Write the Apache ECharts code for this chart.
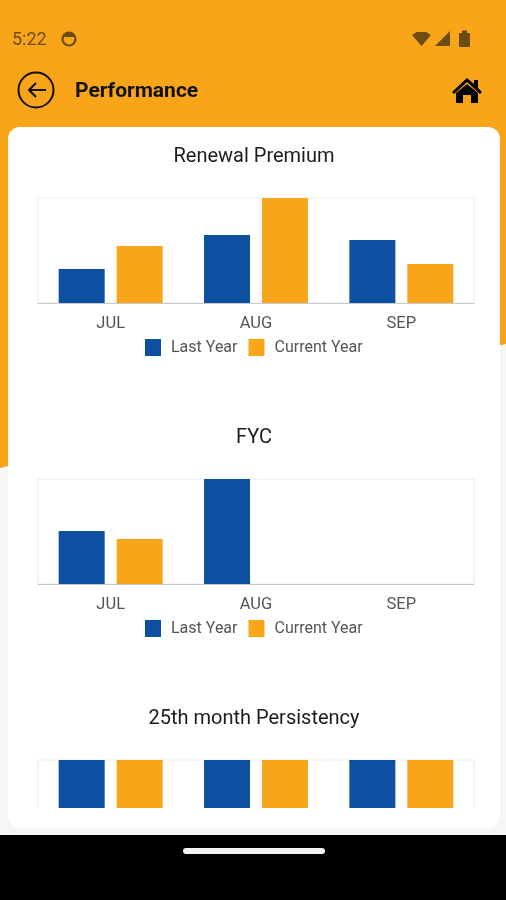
<!DOCTYPE html>
<html>
<head>
<meta charset="utf-8">
<title>Performance</title>
<style>html,body{margin:0;padding:0;background:#f6f6f6}#chart{width:506px;height:900px}</style>
<script src="https://cdn.jsdelivr.net/npm/echarts@6/dist/echarts.min.js"></script>
</head>
<body>
<div id="chart"></div>
<script>
const months = ['JUL', 'AUG', 'SEP'];
const seriesNames = ['Last Year', 'Current Year'];
const chartTitles = ['Renewal Premium', 'FYC', '25th month Persistency'];

const renewalLast = [34, 68, 63];
const renewalCurrent = [57, 105, 39];
const fycLast = [53, 105, 0];
const fycCurrent = [45, 0, 0];
const persistencyLast = [100, 100, 100];
const persistencyCurrent = [100, 100, 100];

const BLUE = '#0d4fa0';
const ORANGE = '#f9a519';
const STATUS = '#6b4c12';
const INK = '#111111';
const FONT = 'Roboto';

const panels = [
  { top: 198, title: 155, last: renewalLast, current: renewalCurrent, legend: 339 },
  { top: 479, title: 436, last: fycLast, current: fycCurrent, legend: 620 },
  { top: 760, title: 717, last: persistencyLast, current: persistencyCurrent, legend: null }
];

const chart = echarts.init(document.getElementById('chart'), null, { renderer: 'canvas' });

const appBar = [
  // page backdrop and the slanted header colour
  { type: 'rect', z: -10, shape: { x: 0, y: 0, width: 506, height: 900 }, style: { fill: '#f6f6f6' } },
  { type: 'polygon', z: -9, shape: { points: [[0, 0], [506, 0], [506, 344], [0, 468]] }, style: { fill: ORANGE } },
  { type: 'rect', z: -8, shape: { x: 8, y: 127, width: 492, height: 701, r: 12 }, style: { fill: '#ffffff' } },

  // status bar
  { type: 'text', z: 20, style: { x: 12, y: 40, text: '5:22', font: '18px ' + FONT, fill: STATUS, verticalAlign: 'middle' } },
  { type: 'circle', z: 20, shape: { cx: 69, cy: 39, r: 6.5 }, style: { fill: 'none', stroke: STATUS, lineWidth: 2.2 } },
  { type: 'polygon', z: 20, shape: { points: [[63, 37], [65, 33], [69, 32], [73, 33], [75, 37]] }, style: { fill: STATUS } },
  { type: 'polygon', z: 20, shape: { points: [[412, 35], [417, 32], [426, 32], [431, 35], [421.5, 46]] }, style: { fill: STATUS } },
  { type: 'polygon', z: 20, shape: { points: [[435, 46], [450, 46], [450, 31]] }, style: { fill: STATUS } },
  { type: 'rect', z: 20, shape: { x: 459, y: 33, width: 11, height: 14, r: 1 }, style: { fill: STATUS } },
  { type: 'rect', z: 20, shape: { x: 462, y: 30.5, width: 5, height: 3 }, style: { fill: STATUS } },

  // back button, screen title and home icon
  { type: 'circle', z: 20, shape: { cx: 36, cy: 90, r: 17.5 }, style: { fill: 'none', stroke: INK, lineWidth: 2 } },
  { type: 'polyline', z: 20, shape: { points: [[46, 90], [29, 90]] }, style: { fill: 'none', stroke: INK, lineWidth: 2 } },
  { type: 'polyline', z: 20, shape: { points: [[36, 83], [29, 90], [36, 97]] }, style: { fill: 'none', stroke: INK, lineWidth: 2 } },
  { type: 'text', z: 20, style: { x: 75, y: 92, text: 'Performance', font: 'bold 21px ' + FONT, fill: INK, verticalAlign: 'middle' } },
  { type: 'polygon', z: 20, shape: { points: [[452, 92], [467, 78], [474, 84], [474, 80], [478, 80], [478, 88], [482, 92], [480, 94], [467, 82], [454, 94]] }, style: { fill: '#000000' } },
  { type: 'polygon', z: 20, shape: { points: [[456, 93], [467, 84], [478, 93], [478, 103], [471, 103], [471, 95], [463, 95], [463, 103], [456, 103]] }, style: { fill: '#000000' } },

  // lower edge of the scrolling card and the navigation area
  { type: 'rect', z: 30, shape: { x: 0, y: 808, width: 506, height: 27 }, style: { fill: '#f6f6f6' } },
  { type: 'rect', z: 31, shape: { x: 8, y: 808, width: 492, height: 20, r: [0, 0, 12, 12] }, style: { fill: '#ffffff' } },
  { type: 'rect', z: 32, shape: { x: 0, y: 835, width: 506, height: 65 }, style: { fill: '#000000' } },
  { type: 'rect', z: 33, shape: { x: 183, y: 848, width: 142, height: 6, r: 3 }, style: { fill: '#f4f4f4' } }
];

const option = {
  animation: false,
  backgroundColor: 'transparent',
  title: panels.map((p, i) => ({
    text: chartTitles[i],
    left: 254,
    top: p.title - 8,
    textAlign: 'center',
    padding: 0,
    textStyle: { fontFamily: FONT, fontSize: 20, fontWeight: 'normal', color: '#1c1c1c' }
  })),
  legend: panels.filter(p => p.legend !== null).map(p => ({
    data: seriesNames,
    left: 145,
    top: p.legend,
    padding: 0,
    icon: 'rect',
    itemWidth: 16,
    itemHeight: 17,
    itemGap: 11,
    selectedMode: false,
    textStyle: { fontFamily: FONT, fontSize: 16, color: '#555555', padding: [0, 0, 0, 5] }
  })),
  grid: panels.map(p => ({
    left: 38,
    width: 436,
    top: p.top,
    height: 105,
    show: true,
    borderColor: '#ececec',
    borderWidth: 1,
    backgroundColor: '#ffffff'
  })),
  xAxis: panels.map((p, i) => ({
    type: 'category',
    gridIndex: i,
    data: months,
    axisTick: { show: false },
    axisLine: { lineStyle: { color: '#c8c8cc', width: 1 } },
    axisLabel: { show: p.legend !== null, fontFamily: FONT, fontSize: 16.5, color: '#555555', margin: 12 }
  })),
  yAxis: panels.map((p, i) => ({
    type: 'value',
    gridIndex: i,
    min: 0,
    max: Math.max(...p.last, ...p.current),
    show: false,
    splitLine: { show: false }
  })),
  series: panels.flatMap((p, i) => [
    { type: 'bar', name: seriesNames[0], xAxisIndex: i, yAxisIndex: i, data: p.last, barWidth: 46, barGap: '26%', itemStyle: { color: BLUE } },
    { type: 'bar', name: seriesNames[1], xAxisIndex: i, yAxisIndex: i, data: p.current, barWidth: 46, barGap: '26%', itemStyle: { color: ORANGE } }
  ]),
  graphic: { elements: appBar }
};

chart.setOption(option);
</script>
</body>
</html>
